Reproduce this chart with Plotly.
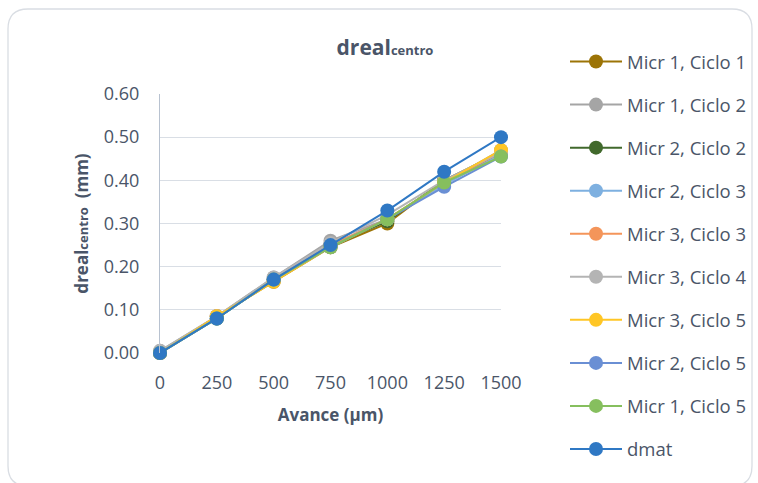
import plotly.graph_objects as go

# Feed positions (µm)
avance = [0, 250, 500, 750, 1000, 1250, 1500]

# Measured centre depth per micrometer / cycle (mm)
micr1_ciclo1 = [0.000, 0.085, 0.165, 0.245, 0.300, 0.400, 0.465]
micr1_ciclo2 = [0.005, 0.085, 0.175, 0.260, 0.310, 0.395, 0.470]
micr2_ciclo2 = [0.000, 0.080, 0.170, 0.250, 0.305, 0.400, 0.460]
micr2_ciclo3 = [0.000, 0.080, 0.170, 0.250, 0.310, 0.390, 0.460]
micr3_ciclo3 = [0.000, 0.085, 0.170, 0.250, 0.310, 0.395, 0.465]
micr3_ciclo4 = [0.005, 0.085, 0.175, 0.255, 0.320, 0.400, 0.465]
micr3_ciclo5 = [0.000, 0.085, 0.165, 0.245, 0.310, 0.395, 0.470]
micr2_ciclo5 = [0.000, 0.080, 0.170, 0.245, 0.310, 0.385, 0.455]
micr1_ciclo5 = [0.000, 0.080, 0.170, 0.245, 0.310, 0.395, 0.455]
dmat = [0.000, 0.080, 0.170, 0.250, 0.330, 0.420, 0.500]

series_names = [
    "Micr 1, Ciclo 1", "Micr 1, Ciclo 2", "Micr 2, Ciclo 2", "Micr 2, Ciclo 3",
    "Micr 3, Ciclo 3", "Micr 3, Ciclo 4", "Micr 3, Ciclo 5", "Micr 2, Ciclo 5",
    "Micr 1, Ciclo 5", "dmat",
]
series_values = [
    micr1_ciclo1, micr1_ciclo2, micr2_ciclo2, micr2_ciclo3, micr3_ciclo3,
    micr3_ciclo4, micr3_ciclo5, micr2_ciclo5, micr1_ciclo5, dmat,
]
series_colors = [
    "#9C7406", "#A5A5A5", "#41692C", "#7EB0E0", "#F4955A",
    "#B4B4B4", "#FFC625", "#6A8FD4", "#86BF5E", "#2F78C4",
]

y_ticks = [0.0, 0.1, 0.2, 0.3, 0.4, 0.5, 0.6]

TEXT = "#4A5568"
FONT = "Open Sans"

fig = go.Figure()
for name, vals, col in zip(series_names, series_values, series_colors):
    fig.add_trace(go.Scatter(
        x=avance, y=vals, name=name, mode="lines+markers",
        line=dict(color=col, width=2),
        marker=dict(color=col, size=14),
        cliponaxis=False, legendgroup=name,
    ))

# plot-area geometry in pixels
W, H = 758, 483
L, R, T, B = 160, 501, 94, 353
pw, ph = R - L, B - T


def px(x):
    return (x - L) / pw


def py(y):
    return (B - y) / ph


# rounded outer frame
x0, x1, y0, y1, r = 8, 752, 9, 486, 20
path = (
    f"M {px(x0 + r)},{py(y0)} L {px(x1 - r)},{py(y0)} "
    f"Q {px(x1)},{py(y0)} {px(x1)},{py(y0 + r)} "
    f"L {px(x1)},{py(y1 - r)} Q {px(x1)},{py(y1)} {px(x1 - r)},{py(y1)} "
    f"L {px(x0 + r)},{py(y1)} Q {px(x0)},{py(y1)} {px(x0)},{py(y1 - r)} "
    f"L {px(x0)},{py(y0 + r)} Q {px(x0)},{py(y0)} {px(x0 + r)},{py(y0)} Z"
)

fig.update_layout(
    width=W, height=H,
    margin=dict(l=L, r=W - R, t=T, b=H - B),
    paper_bgcolor="white", plot_bgcolor="white",
    font=dict(family=FONT, color=TEXT, size=18),
    title=dict(
        text="<b>dreal<span style='font-size:13px'>centro</span></b>",
        x=385 / W, xanchor="center", xref="container",
        y=1 - 48 / H, yanchor="middle", yref="container",
        font=dict(size=21, color=TEXT, family=FONT),
    ),
    xaxis=dict(
        range=[0, 1500], tickvals=avance, ticktext=[str(v) for v in avance],
        showgrid=False, zeroline=False, showline=False, ticks="",
        ticklabelstandoff=17,
        tickfont=dict(size=18, color=TEXT),
        title=dict(text="<b>Avance (µm)</b>", font=dict(size=17, color=TEXT), standoff=16),
    ),
    yaxis=dict(
        range=[0, 0.6], tickvals=y_ticks, tickformat=".2f",
        showgrid=True, gridcolor="#D9DEE5", gridwidth=1.3,
        zeroline=False, showline=True, linecolor="#B8C2D0", linewidth=1.3,
        ticks="", ticklabelstandoff=16, tickfont=dict(size=18, color=TEXT),
        title=dict(
            text="<b>dreal<span style='font-size:13px'>centro</span>  (mm)</b>",
            font=dict(size=17, color=TEXT), standoff=10,
        ),
    ),
    legend=dict(
        xref="container", yref="container",
        x=565 / W, xanchor="left", y=1 - 43 / H, yanchor="top",
        font=dict(size=18.5, color=TEXT), itemwidth=52,
        tracegroupgap=16, bgcolor="rgba(0,0,0,0)", maxheight=470,
    ),
    shapes=[dict(type="path", path=path, xref="paper", yref="paper",
                 line=dict(color="#D9DDE3", width=1.3), layer="below")],
)

fig.write_html("out.html")
